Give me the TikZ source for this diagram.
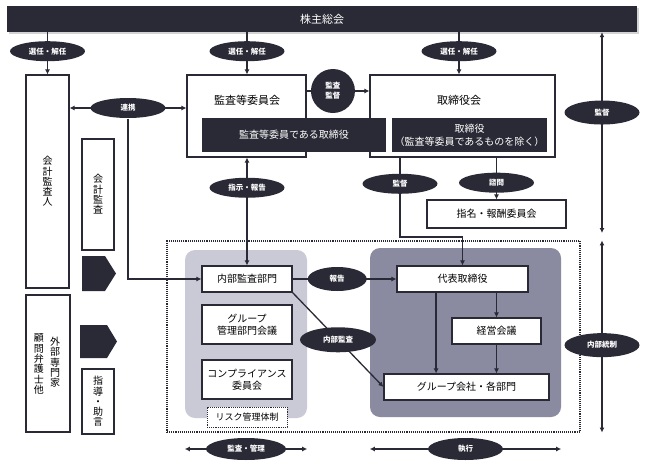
\documentclass[tikz,border=0pt]{standalone}
\usepackage{fontspec}
\usepackage{xcolor}
\usepackage{tikz}
\usetikzlibrary{shapes.geometric, arrows.meta, positioning, calc, shadows}
\newfontfamily\jp{Noto Sans CJK JP}
\definecolor{darknavy}{RGB}{42, 42, 54}
\definecolor{lightlav}{RGB}{202, 202, 214}
\definecolor{midlav}{RGB}{138, 138, 160}

\begin{document}
\begin{tikzpicture}[
    x=1pt, y=-1pt,
    box/.style={rectangle, draw=darknavy, fill=white, line width=1.1pt, inner sep=1pt, align=center, font=\jp\fontsize{10}{12}\selectfont},
    vbox/.style={box, font=\jp\fontsize{10}{10.3}\selectfont},
    darkbox/.style={rectangle, fill=darknavy, text=white, inner sep=1pt, align=center, font=\jp\fontsize{10}{13}\selectfont},
    oval/.style={ellipse, fill=darknavy, text=white, minimum width=75pt, minimum height=20pt, inner sep=0pt, font=\jp\bfseries\fontsize{7.5}{9}\selectfont},
    circ/.style={circle, fill=darknavy, text=white, minimum size=44pt, inner sep=0pt, align=center, font=\jp\bfseries\fontsize{7.5}{10}\selectfont},
    area/.style={rectangle, rounded corners=10pt},
    arrow/.style={-{Latex[length=5pt,width=5pt]}, line width=1.3pt, darknavy},
    dblarrow/.style={{Latex[length=5pt,width=5pt]}-{Latex[length=5pt,width=5pt]}, line width=1.3pt, darknavy}
]
\useasboundingbox (0,0) rectangle (648,466);

\node[darkbox, minimum width=630pt, minimum height=26pt, font=\jp\fontsize{11}{13}\selectfont,
  drop shadow={shadow xshift=1.5pt, shadow yshift=-1.5pt, opacity=.35}] (gm) at (322,19) {株主総会};

\node[vbox, minimum width=43pt, minimum height=213pt] (cpa) at (47.5,181.5) {会\\計\\監\\査\\人};
\node[vbox, minimum width=32pt, minimum height=111pt] (audit) at (98,194.5) {会\\計\\監\\査};
\node[vbox, minimum width=44pt, minimum height=137pt] (ext) at (48,363.5) {};
\node[font=\jp\fontsize{10}{10.3}\selectfont, align=center, inner sep=0pt] (ext1) at (55,362.5) {外\\部\\専\\門\\家};
\node[font=\jp\fontsize{10}{10.3}\selectfont, align=center, inner sep=0pt] (ext2) at (39,364) {顧\\問\\弁\\護\\士\\他};
\node[vbox, minimum width=32pt, minimum height=65pt] (advice) at (98,401.5) {指\\導\\・\\助\\言};
\fill[darknavy] (82,256) -- (105,256) -- (116,273.5) -- (105,291) -- (82,291) -- cycle;
\fill[darknavy] (80,325) -- (107,325) -- (117,341.5) -- (107,358) -- (80,358) -- cycle;

\node[box, minimum width=119pt, minimum height=82pt] (ac) at (246.5,116) {};
\node[font=\jp\fontsize{11}{13}\selectfont] (acT) at (247,100) {監査等委員会};
\node[box, minimum width=185pt, minimum height=82pt] (board) at (462.5,116) {};
\node[font=\jp\fontsize{11}{13}\selectfont] (boardT) at (459,100) {取締役会};
\node[darkbox, minimum width=184pt, minimum height=34pt] (acdir) at (294,135) {監査等委員である取締役};
\node[darkbox, minimum width=155pt, minimum height=34pt] (dir) at (469.5,135) {取締役\\（監査等委員であるものを除く）};
\node[box, minimum width=139pt, minimum height=28pt] (nom) at (496.5,214) {指名・報酬委員会};

\node[draw=darknavy, densely dotted, line width=1.1pt, minimum width=413pt, minimum height=191pt] (ctrl) at (373.5,336.5) {};
\node[area, fill=lightlav, minimum width=122pt, minimum height=168pt] (leftarea) at (246,334) {};
\node[area, fill=midlav, minimum width=191pt, minimum height=169pt] (rightarea) at (465.5,332.5) {};

\node[box, minimum width=90pt, minimum height=26pt] (iad) at (247,279) {内部監査部門};
\node[box, minimum width=90pt, minimum height=39pt] (grpmg) at (247,324.5) {グループ\\管理部門会議};
\node[box, minimum width=90pt, minimum height=39pt] (comp) at (247,379.5) {コンプライアンス\\委員会};
\node[box, densely dotted, line width=0.8pt, minimum width=80pt, minimum height=20pt, font=\jp\fontsize{9}{11}\selectfont] (risk) at (247,417) {リスク管理体制};

\node[box, minimum width=131pt, minimum height=26pt] (rep) at (462.5,279) {代表取締役};
\node[box, minimum width=89pt, minimum height=26pt] (mgmt) at (496.5,331) {経営会議};
\node[box, minimum width=165pt, minimum height=26pt] (grp) at (466.5,387) {グループ会社・各部門};

\coordinate (linky) at (128,108);
\coordinate (supy) at (333,91);
\coordinate (supx) at (400,237);
\coordinate (rtop) at (602,233);
\coordinate (bot) at (0,449);
\coordinate (rs) at ($(rep.south west)!.3!(rep.south east)$);

\draw[arrow] (gm.south -| cpa) -- node[oval, pos=.45] (sel1) {選任・解任} (cpa.north);
\draw[arrow] (gm.south -| acT) -- node[oval, pos=.45] (sel2) {選任・解任} (acT |- ac.north);
\draw[arrow] (gm.south -| boardT) -- node[oval, pos=.45] (sel3) {選任・解任} (boardT |- board.north);

\draw[dblarrow] (linky -| cpa.east) -- node[oval] (link) {連携} (linky -| ac.west);
\draw[arrow] (link.south) |- (iad.west);

\draw[arrow] (supy -| ac.east) -- node[circ, pos=.42] (audsup) {監査\\監督} (supy -| board.west);

\draw[dblarrow] (iad |- ac.south) -- node[oval, pos=.28] (instr) {指示・報告} (iad.north);
\draw[arrow] (supx |- board.south) -- node[oval, pos=.33] (sup1) {監督} (supx) -| (rep.north);
\draw[arrow] (nom |- board.south) -- node[oval, pos=.6] (consult) {諮問} (nom.north);

\draw[dblarrow] (rtop |- gm.south) -- node[oval, pos=.4, minimum height=24pt] (sup2) {監督} (rtop);
\draw[dblarrow] (ctrl.north -| rtop) -- node[oval, pos=.545, minimum height=24pt] (ic) {内部統制} (ctrl.south -| rtop);

\draw[arrow] (iad.east) -- node[oval, pos=.43, minimum width=59pt, minimum height=24pt] (report) {報告} (rep.west);
\draw[arrow] (iad.south east) -- node[oval, pos=.5, minimum width=76pt, minimum height=25pt] (ia) {内部監査} (grp.west);

\draw[arrow] (mgmt |- rep.south) -- (mgmt.north);
\draw[arrow] (mgmt.south) -- (mgmt |- grp.north);
\draw[arrow] (rs) -- (rs |- grp.north);

\draw[dblarrow] (bot -| leftarea.west) -- node[oval, minimum width=80pt, minimum height=22pt] (audmg) {監査・管理} (bot -| leftarea.east);
\draw[dblarrow] (bot -| rightarea.west) -- node[oval, minimum height=22pt] (exec) {執行} (bot -| rightarea.east);

\end{tikzpicture}
\end{document}
